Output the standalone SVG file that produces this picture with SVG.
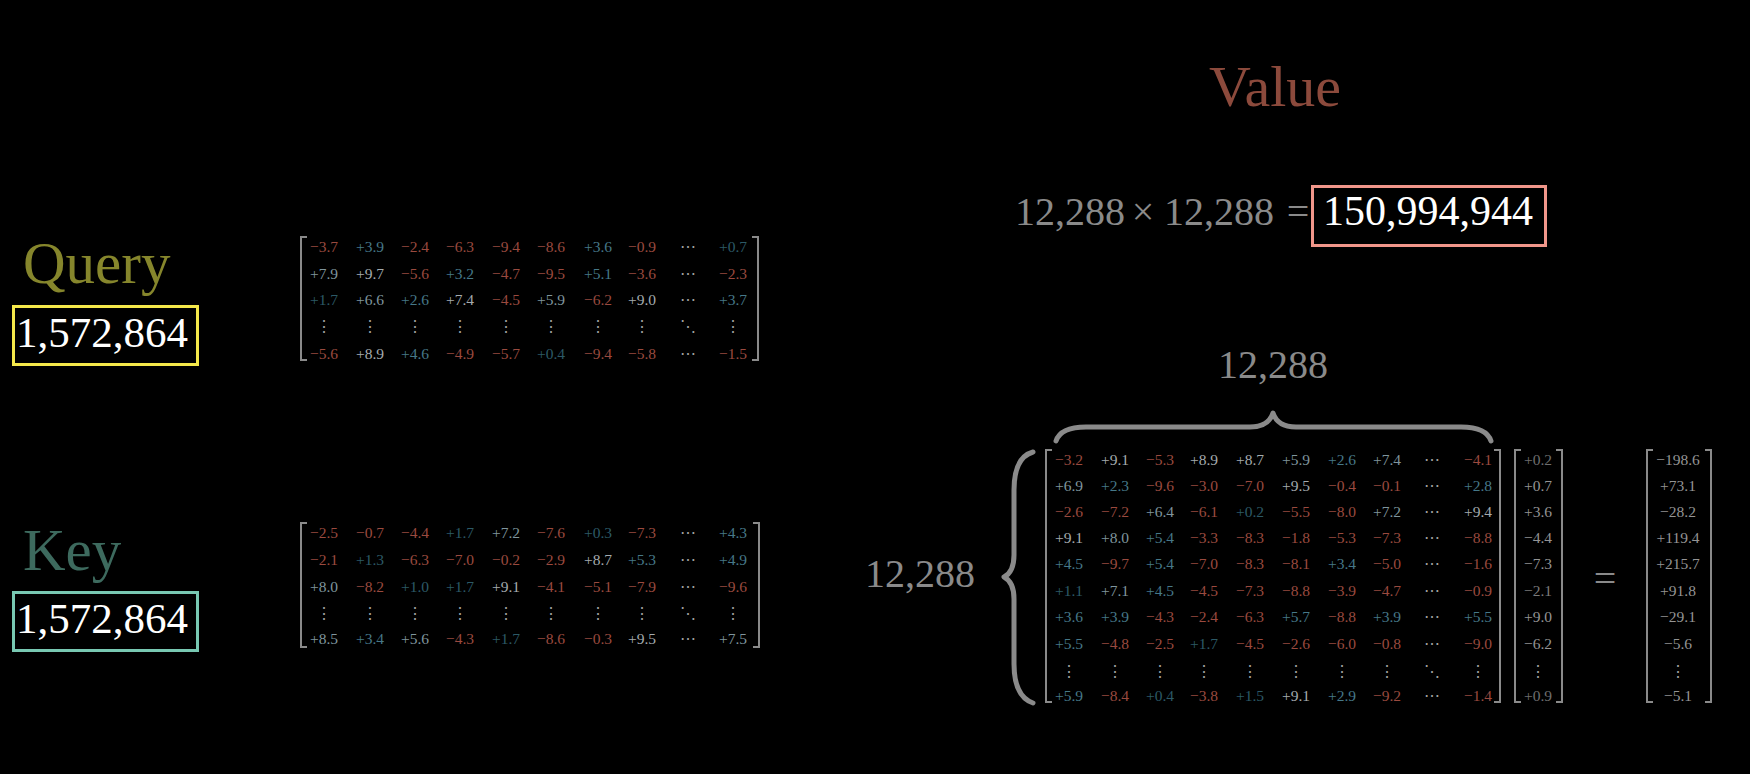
<svg xmlns="http://www.w3.org/2000/svg" width="1750" height="774" viewBox="0 0 1750 774">
<style>
text{font-family:"Liberation Serif","DejaVu Serif",serif}
.m text{font-size:15.5px;text-anchor:middle}
.r{fill:#9a4a3f}.t{fill:#467888}.d{fill:#2c5966}.g{fill:#7f959d}.w{fill:#a4abae}.v{fill:#949494}
.dt{fill:#a0a0a0;font-family:"DejaVu Serif",serif;font-size:17px;text-anchor:middle}
.br{fill:none;stroke:#8a8a8a;stroke-width:2}
.big{fill:#8a8a8a;font-size:40px}
.num{fill:#ffffff;font-size:42px}
.brace{fill:none;stroke:#8a8a8a;stroke-width:5;stroke-linecap:round;stroke-linejoin:round}
</style>
<rect width="1750" height="774" fill="#000"/>

<g id="query">
<text x="23" y="283" font-size="59" fill="#86862c">Query</text>
<rect x="13.5" y="306.5" width="184" height="58" fill="none" stroke="#f4e84a" stroke-width="3"/>
<text x="102" y="347" class="num" text-anchor="middle" style="font-size:43px">1,572,864</text>
</g>

<g id="query-matrix" class="m">
<path class="br" d="M307,237 H301 V360 H307 M752,237 H758 V360 H752"/>
<text x="324" y="252" class="r">−3.7</text><text x="370" y="252" class="t">+3.9</text><text x="415" y="252" class="r">−2.4</text><text x="460" y="252" class="r">−6.3</text><text x="506" y="252" class="r">−9.4</text><text x="551" y="252" class="r">−8.6</text><text x="598" y="252" class="t">+3.6</text><text x="642" y="252" class="r">−0.9</text><text x="688" y="252" class="dt">⋯</text><text x="733" y="252" class="d">+0.7</text>
<text x="324" y="279" class="g">+7.9</text><text x="370" y="279" class="w">+9.7</text><text x="415" y="279" class="r">−5.6</text><text x="460" y="279" class="t">+3.2</text><text x="506" y="279" class="r">−4.7</text><text x="551" y="279" class="r">−9.5</text><text x="598" y="279" class="t">+5.1</text><text x="642" y="279" class="r">−3.6</text><text x="688" y="279" class="dt">⋯</text><text x="733" y="279" class="r">−2.3</text>
<text x="324" y="305" class="d">+1.7</text><text x="370" y="305" class="g">+6.6</text><text x="415" y="305" class="t">+2.6</text><text x="460" y="305" class="w">+7.4</text><text x="506" y="305" class="r">−4.5</text><text x="551" y="305" class="g">+5.9</text><text x="598" y="305" class="r">−6.2</text><text x="642" y="305" class="w">+9.0</text><text x="688" y="305" class="dt">⋯</text><text x="733" y="305" class="t">+3.7</text>
<text x="324" y="332" class="dt">⋮</text><text x="370" y="332" class="dt">⋮</text><text x="415" y="332" class="dt">⋮</text><text x="460" y="332" class="dt">⋮</text><text x="506" y="332" class="dt">⋮</text><text x="551" y="332" class="dt">⋮</text><text x="598" y="332" class="dt">⋮</text><text x="642" y="332" class="dt">⋮</text><text x="688" y="332" class="dt">⋱</text><text x="733" y="332" class="dt">⋮</text>
<text x="324" y="359" class="r">−5.6</text><text x="370" y="359" class="w">+8.9</text><text x="415" y="359" class="t">+4.6</text><text x="460" y="359" class="r">−4.9</text><text x="506" y="359" class="r">−5.7</text><text x="551" y="359" class="d">+0.4</text><text x="598" y="359" class="r">−9.4</text><text x="642" y="359" class="r">−5.8</text><text x="688" y="359" class="dt">⋯</text><text x="733" y="359" class="r">−1.5</text>
</g>

<g id="key">
<text x="23" y="570" font-size="59" fill="#3d6a5e">Key</text>
<rect x="13.5" y="592.5" width="184" height="58" fill="none" stroke="#78c8b2" stroke-width="3"/>
<text x="102" y="633" class="num" text-anchor="middle" style="font-size:43px">1,572,864</text>
</g>

<g id="key-matrix" class="m">
<path class="br" d="M307,523 H301 V647 H307 M753,523 H759 V647 H753"/>
<text x="324" y="538" class="r">−2.5</text><text x="370" y="538" class="r">−0.7</text><text x="415" y="538" class="r">−4.4</text><text x="460" y="538" class="d">+1.7</text><text x="506" y="538" class="g">+7.2</text><text x="551" y="538" class="r">−7.6</text><text x="598" y="538" class="d">+0.3</text><text x="642" y="538" class="r">−7.3</text><text x="688" y="538" class="dt">⋯</text><text x="733" y="538" class="t">+4.3</text>
<text x="324" y="565" class="r">−2.1</text><text x="370" y="565" class="d">+1.3</text><text x="415" y="565" class="r">−6.3</text><text x="460" y="565" class="r">−7.0</text><text x="506" y="565" class="r">−0.2</text><text x="551" y="565" class="r">−2.9</text><text x="598" y="565" class="w">+8.7</text><text x="642" y="565" class="t">+5.3</text><text x="688" y="565" class="dt">⋯</text><text x="733" y="565" class="t">+4.9</text>
<text x="324" y="592" class="g">+8.0</text><text x="370" y="592" class="r">−8.2</text><text x="415" y="592" class="d">+1.0</text><text x="460" y="592" class="d">+1.7</text><text x="506" y="592" class="w">+9.1</text><text x="551" y="592" class="r">−4.1</text><text x="598" y="592" class="r">−5.1</text><text x="642" y="592" class="r">−7.9</text><text x="688" y="592" class="dt">⋯</text><text x="733" y="592" class="r">−9.6</text>
<text x="324" y="619" class="dt">⋮</text><text x="370" y="619" class="dt">⋮</text><text x="415" y="619" class="dt">⋮</text><text x="460" y="619" class="dt">⋮</text><text x="506" y="619" class="dt">⋮</text><text x="551" y="619" class="dt">⋮</text><text x="598" y="619" class="dt">⋮</text><text x="642" y="619" class="dt">⋮</text><text x="688" y="619" class="dt">⋱</text><text x="733" y="619" class="dt">⋮</text>
<text x="324" y="644" class="g">+8.5</text><text x="370" y="644" class="t">+3.4</text><text x="415" y="644" class="g">+5.6</text><text x="460" y="644" class="r">−4.3</text><text x="506" y="644" class="d">+1.7</text><text x="551" y="644" class="r">−8.6</text><text x="598" y="644" class="r">−0.3</text><text x="642" y="644" class="w">+9.5</text><text x="688" y="644" class="dt">⋯</text><text x="733" y="644" class="g">+7.5</text>
</g>

<g id="value">
<text x="1275" y="106" font-size="58" fill="#8c4a3c" text-anchor="middle">Value</text>
<text x="1125" y="225" class="big" text-anchor="end">12,288</text>
<text x="1143" y="225" class="big" text-anchor="middle">×</text>
<text x="1164" y="225" class="big">12,288</text>
<text x="1298" y="225" class="big" text-anchor="middle">=</text>
<rect x="1312.5" y="186.5" width="233" height="59" fill="none" stroke="#f0968a" stroke-width="3"/>
<text x="1428" y="225" class="num" text-anchor="middle">150,994,944</text>
</g>

<g id="dimension-labels">
<text x="1273" y="378" class="big" text-anchor="middle">12,288</text>
<path class="brace" d="M1056,441 C1059,432 1069,427 1086,427 L1250,427 C1262,427 1270,422 1273,413 C1276,422 1284,427 1296,427 L1461,427 C1478,427 1488,432 1491,441"/>
<text x="920" y="587" class="big" text-anchor="middle">12,288</text>
<path class="brace" d="M1033,452 C1019,456 1014,470 1014,490 L1014,555 C1014,568 1010,574 1004,577 C1010,580 1014,586 1014,599 L1014,664 C1014,684 1019,698 1033,703"/>
</g>

<g id="value-matrix" class="m">
<path class="br" d="M1052,450 H1046 V702 H1052 M1494,450 H1500 V702 H1494"/>
<text x="1069" y="465" class="r">−3.2</text><text x="1115" y="465" class="w">+9.1</text><text x="1160" y="465" class="r">−5.3</text><text x="1204" y="465" class="w">+8.9</text><text x="1250" y="465" class="w">+8.7</text><text x="1296" y="465" class="g">+5.9</text><text x="1342" y="465" class="t">+2.6</text><text x="1387" y="465" class="g">+7.4</text><text x="1432" y="465" class="dt">⋯</text><text x="1478" y="465" class="r">−4.1</text>
<text x="1069" y="491" class="g">+6.9</text><text x="1115" y="491" class="t">+2.3</text><text x="1160" y="491" class="r">−9.6</text><text x="1204" y="491" class="r">−3.0</text><text x="1250" y="491" class="r">−7.0</text><text x="1296" y="491" class="w">+9.5</text><text x="1342" y="491" class="r">−0.4</text><text x="1387" y="491" class="r">−0.1</text><text x="1432" y="491" class="dt">⋯</text><text x="1478" y="491" class="t">+2.8</text>
<text x="1069" y="517" class="r">−2.6</text><text x="1115" y="517" class="r">−7.2</text><text x="1160" y="517" class="g">+6.4</text><text x="1204" y="517" class="r">−6.1</text><text x="1250" y="517" class="d">+0.2</text><text x="1296" y="517" class="r">−5.5</text><text x="1342" y="517" class="r">−8.0</text><text x="1387" y="517" class="g">+7.2</text><text x="1432" y="517" class="dt">⋯</text><text x="1478" y="517" class="w">+9.4</text>
<text x="1069" y="543" class="w">+9.1</text><text x="1115" y="543" class="g">+8.0</text><text x="1160" y="543" class="t">+5.4</text><text x="1204" y="543" class="r">−3.3</text><text x="1250" y="543" class="r">−8.3</text><text x="1296" y="543" class="r">−1.8</text><text x="1342" y="543" class="r">−5.3</text><text x="1387" y="543" class="r">−7.3</text><text x="1432" y="543" class="dt">⋯</text><text x="1478" y="543" class="r">−8.8</text>
<text x="1069" y="569" class="t">+4.5</text><text x="1115" y="569" class="r">−9.7</text><text x="1160" y="569" class="t">+5.4</text><text x="1204" y="569" class="r">−7.0</text><text x="1250" y="569" class="r">−8.3</text><text x="1296" y="569" class="r">−8.1</text><text x="1342" y="569" class="t">+3.4</text><text x="1387" y="569" class="r">−5.0</text><text x="1432" y="569" class="dt">⋯</text><text x="1478" y="569" class="r">−1.6</text>
<text x="1069" y="596" class="d">+1.1</text><text x="1115" y="596" class="g">+7.1</text><text x="1160" y="596" class="t">+4.5</text><text x="1204" y="596" class="r">−4.5</text><text x="1250" y="596" class="r">−7.3</text><text x="1296" y="596" class="r">−8.8</text><text x="1342" y="596" class="r">−3.9</text><text x="1387" y="596" class="r">−4.7</text><text x="1432" y="596" class="dt">⋯</text><text x="1478" y="596" class="r">−0.9</text>
<text x="1069" y="622" class="t">+3.6</text><text x="1115" y="622" class="t">+3.9</text><text x="1160" y="622" class="r">−4.3</text><text x="1204" y="622" class="r">−2.4</text><text x="1250" y="622" class="r">−6.3</text><text x="1296" y="622" class="t">+5.7</text><text x="1342" y="622" class="r">−8.8</text><text x="1387" y="622" class="t">+3.9</text><text x="1432" y="622" class="dt">⋯</text><text x="1478" y="622" class="t">+5.5</text>
<text x="1069" y="649" class="t">+5.5</text><text x="1115" y="649" class="r">−4.8</text><text x="1160" y="649" class="r">−2.5</text><text x="1204" y="649" class="d">+1.7</text><text x="1250" y="649" class="r">−4.5</text><text x="1296" y="649" class="r">−2.6</text><text x="1342" y="649" class="r">−6.0</text><text x="1387" y="649" class="r">−0.8</text><text x="1432" y="649" class="dt">⋯</text><text x="1478" y="649" class="r">−9.0</text>
<text x="1069" y="677" class="dt">⋮</text><text x="1115" y="677" class="dt">⋮</text><text x="1160" y="677" class="dt">⋮</text><text x="1204" y="677" class="dt">⋮</text><text x="1250" y="677" class="dt">⋮</text><text x="1296" y="677" class="dt">⋮</text><text x="1342" y="677" class="dt">⋮</text><text x="1387" y="677" class="dt">⋮</text><text x="1432" y="677" class="dt">⋱</text><text x="1478" y="677" class="dt">⋮</text>
<text x="1069" y="701" class="t">+5.9</text><text x="1115" y="701" class="r">−8.4</text><text x="1160" y="701" class="d">+0.4</text><text x="1204" y="701" class="r">−3.8</text><text x="1250" y="701" class="d">+1.5</text><text x="1296" y="701" class="w">+9.1</text><text x="1342" y="701" class="t">+2.9</text><text x="1387" y="701" class="r">−9.2</text><text x="1432" y="701" class="dt">⋯</text><text x="1478" y="701" class="r">−1.4</text>
</g>

<g id="input-vector" class="m">
<path class="br" d="M1521,450 H1515 V702 H1521 M1556,450 H1562 V702 H1556"/>
<text x="1538" y="465" class="v" style="fill:#6e6e6e">+0.2</text>
<text x="1538" y="491" class="v">+0.7</text>
<text x="1538" y="517" class="v">+3.6</text>
<text x="1538" y="543" class="v">−4.4</text>
<text x="1538" y="569" class="v">−7.3</text>
<text x="1538" y="596" class="v" style="fill:#7a7a7a">−2.1</text>
<text x="1538" y="622" class="v">+9.0</text>
<text x="1538" y="649" class="v">−6.2</text>
<text x="1538" y="677" class="dt">⋮</text>
<text x="1538" y="701" class="v" style="fill:#6e6e6e">+0.9</text>
</g>

<g id="equals">
<text x="1605" y="592" class="big" text-anchor="middle">=</text>
</g>

<g id="output-vector" class="m">
<path class="br" d="M1653,450 H1647 V702 H1653 M1705,450 H1711 V702 H1705"/>
<text x="1678" y="465" class="v">−198.6</text>
<text x="1678" y="491" class="v">+73.1</text>
<text x="1678" y="517" class="v">−28.2</text>
<text x="1678" y="543" class="v">+119.4</text>
<text x="1678" y="569" class="v">+215.7</text>
<text x="1678" y="596" class="v">+91.8</text>
<text x="1678" y="622" class="v">−29.1</text>
<text x="1678" y="649" class="v">−5.6</text>
<text x="1678" y="677" class="dt">⋮</text>
<text x="1678" y="701" class="v">−5.1</text>
</g>
</svg>
